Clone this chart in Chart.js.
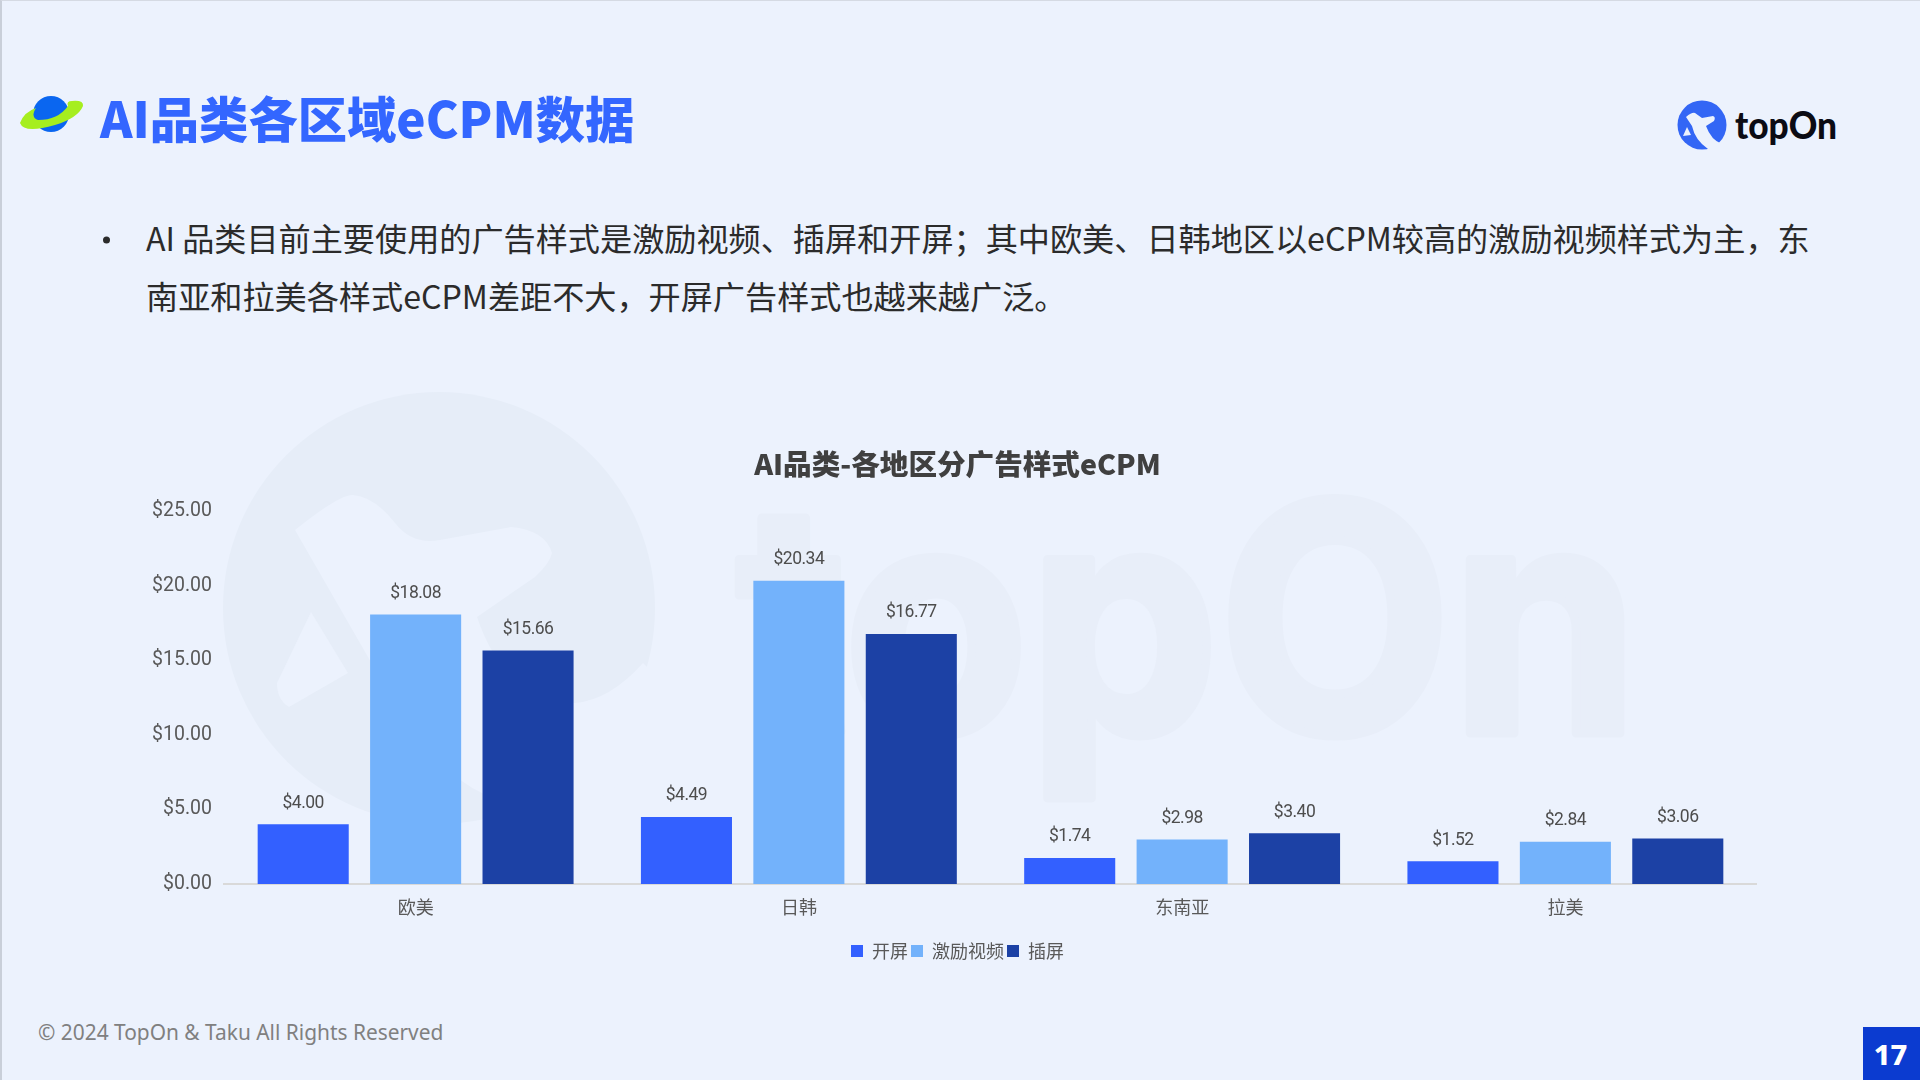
<!DOCTYPE html>
<html><head><meta charset="utf-8">
<script src="https://cdn.jsdelivr.net/npm/chart.js@4"></script>
<style>
html,body{margin:0;padding:0;width:1920px;height:1080px;overflow:hidden;background:#ECF2FD;}
body{position:relative;font-family:"Noto Sans CJK SC","Noto Sans",sans-serif;}
.abs{position:absolute;white-space:nowrap;}
#edge{position:absolute;left:0;top:0;width:1920px;height:1080px;box-sizing:border-box;border-left:2px solid #C9CFD9;border-top:1px solid #D5DAE3;pointer-events:none;}
#title{left:100px;top:81px;font-size:49.3px;line-height:72px;font-weight:900;color:#3366FF;}
.body{left:146px;font-size:32.15px;line-height:44px;color:#2B2B2B;}
#chartBox{position:absolute;left:140px;top:445px;width:1617px;height:525px;}
#footer{left:38px;top:1016px;font-family:"Noto Sans";font-size:20.9px;line-height:32px;color:#808080;}
#page{position:absolute;left:1863px;top:1027px;width:57px;height:53px;background:#0B3BD0;color:#fff;font:800 29px/53px "Noto Sans";text-align:center;text-indent:-2px;}
</style></head><body>
<svg class="abs" style="left:0;top:0" width="1920" height="1080" xmlns="http://www.w3.org/2000/svg">
  <circle cx="439" cy="608" r="216" fill="#E6EDF8"/>
  <path fill="#ECF2FD" d="M295,530 Q340,494 353,495 Q375,497 395,523 Q412,545 440,540 L511,527 Q545,530 552,553 Q550,563 535,577 L477,617 Q505,700 575,703 Q610,700 643,663 L700,720 L560,830 L545,797 Q500,800 482,793 Q430,770 368,657 Z"/>
  <path fill="#ECF2FD" d="M311,612 L348,673 L289,707 Q277,700 277,683 Z"/>
  <text x="736" y="733" font-family="Inter,'Noto Sans',sans-serif" font-weight="700" font-size="318" fill="#E8EEF9" stroke="#E8EEF9" stroke-width="9" stroke-linejoin="round" textLength="903" lengthAdjust="spacingAndGlyphs">topOn</text>
  <!-- planet icon -->
  <circle cx="51" cy="114" r="18" fill="#0A66F0"/>
  <path d="M20,123 Q24,112 36,108 Q30,117 38,120 Q58,120 68,106 Q66,101 72,101 Q84,100 83,106 Q78,118 55,125 Q24,134 20,123Z" fill="#A6EE1F"/>
  <!-- logo -->
  <circle cx="1702" cy="125" r="24.5" fill="#3366F5"/>
  <path d="M1686,117 Q1692,112 1695,113 L1702,118 L1713,116 Q1716,117 1714,121 L1706,126 Q1711,140 1722,144 Q1712,150 1708,149 Q1695,140 1692,126 Z M1687,127 L1691,135 L1683,136Z" fill="#ECF2FD"/>
  <text x="1735" y="139" font-family="Lato,Inter,sans-serif" font-weight="900" font-size="38" fill="#0C0C14" textLength="102" lengthAdjust="spacingAndGlyphs">topOn</text>
  <!-- bullet -->
  <circle cx="106.500" cy="240" r="3.500" fill="#2B2B2B"/>
</svg>
<div id="title" class="abs">AI品类各区域eCPM数据</div>
<div class="abs body" style="top:215px">AI 品类目前主要使用的广告样式是激励视频、插屏和开屏；其中欧美、日韩地区以eCPM较高的激励视频样式为主，东</div>
<div class="abs body" style="top:273px">南亚和拉美各样式eCPM差距不大，开屏广告样式也越来越广泛。</div>
<div id="chartBox"><canvas id="c"></canvas></div>
<div id="footer" class="abs">© 2024 TopOn &amp; Taku All Rights Reserved</div>
<div id="page">17</div>
<div id="edge"></div>
<script>
const categories=["欧美","日韩","东南亚","拉美"];
const splashValues=[4.00,4.49,1.74,1.52];
const rewardedValues=[18.08,20.34,2.98,2.84];
const interstitialValues=[15.66,16.77,3.40,3.06];
const seriesNames=["开屏","激励视频","插屏"];
const chartTitle="AI品类-各地区分广告样式eCPM";
const money=v=>"$"+Number(v).toFixed(2);
const valueLabels={id:"valueLabels",
  afterLayout(chart){chart.scales.y.left-=10;},
  afterDatasetsDraw(chart){
  const g=chart.ctx;g.save();
  g.font='17.5px Roboto,"Noto Sans",sans-serif';g.letterSpacing="-0.5px";g.fillStyle="#4D4D4D";g.textAlign="center";g.textBaseline="middle";
  chart.data.datasets.forEach((d,i)=>{chart.getDatasetMeta(i).data.forEach((el,j)=>{g.fillText(money(d.data[j]),el.x,el.y-21);});});
  g.restore();
}};
Chart.defaults.font.family='"Noto Sans CJK SC","Noto Sans",sans-serif';
new Chart(document.getElementById("c"),{
  type:"bar",
  data:{labels:categories,datasets:[
    {label:seriesNames[0],data:splashValues,backgroundColor:"#3360FF"},
    {label:seriesNames[1],data:rewardedValues,backgroundColor:"#73B2FB"},
    {label:seriesNames[2],data:interstitialValues,backgroundColor:"#1C41A5"}
  ]},
  plugins:[valueLabels],
  options:{
    responsive:true,maintainAspectRatio:false,animation:false,
    layout:{padding:{left:18,right:0,top:0,bottom:0}},
    datasets:{bar:{categoryPercentage:0.88,barPercentage:0.81}},
    plugins:{
      title:{display:true,text:chartTitle,color:"#404040",font:{size:28.6,weight:"800"},padding:{top:2,bottom:30}},
      legend:{position:"bottom",labels:{boxWidth:12,boxHeight:12,padding:3,color:"#595959",font:{size:18}}},
      tooltip:{enabled:false}
    },
    scales:{
      x:{grid:{display:false,drawTicks:false},border:{color:"#D9D9D9",width:2},
         ticks:{color:"#595959",font:{size:18},padding:12},
         afterFit(s){s.height=55;}},
      y:{min:0,max:25,grid:{display:false,drawTicks:false},border:{display:false},
         ticks:{stepSize:5,color:"#595959",padding:12,font:{size:19.5,family:'Roboto,"Noto Sans",sans-serif'},callback:v=>money(v)},
         afterFit(s){s.width=66;}}
    }
  }
});
</script>
</body></html>
